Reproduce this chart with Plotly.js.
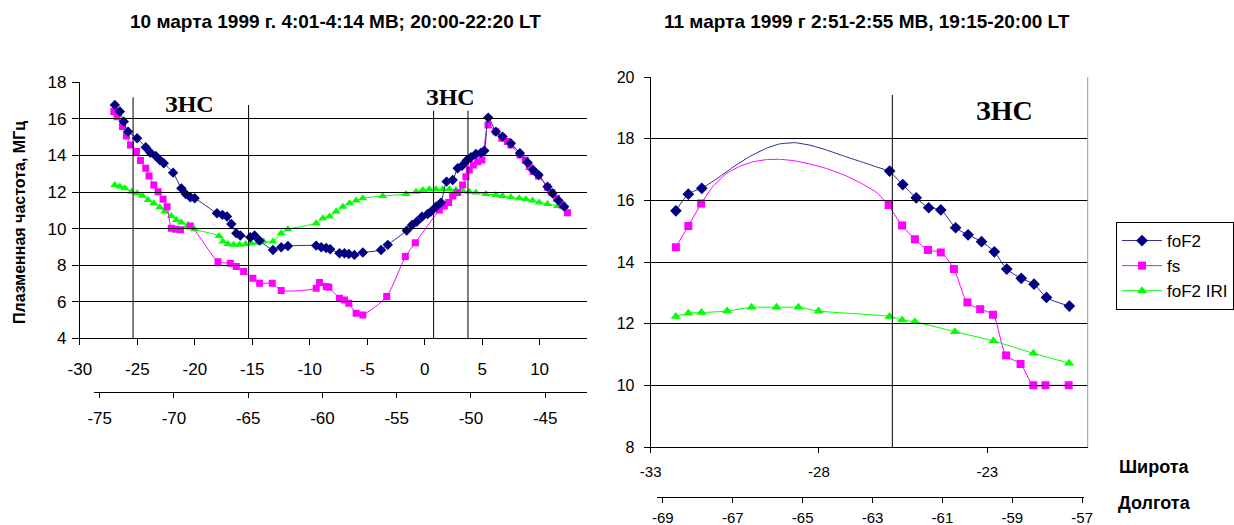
<!DOCTYPE html>
<html>
<head>
<meta charset="utf-8">
<script src="https://cdn.plot.ly/plotly-3.0.1.min.js"></script>
<style>html,body{margin:0;padding:0;background:#fff}#chart{width:1234px;height:525px}</style>
</head>
<body>
<div id="chart"></div>
<script>
// ---------- Left chart: 10 March 1999 ----------
const leftFoF2Lat = [-26.96,-26.52,-26.18,-25.80,-25.02,-24.27,-23.86,-23.40,-23.05,-22.70,-21.89,-21.17,-20.79,-20.39,-20.01,-18.07,-17.60,-17.20,-16.82,-16.39,-16.04,-15.17,-14.80,-14.36,-13.20,-12.48,-11.90,-9.44,-9.00,-8.57,-8.22,-7.41,-6.98,-6.60,-6.11,-5.38,-3.79,-3.21,-1.56,-1.10,-0.69,-0.23,0.26,0.55,0.99,1.42,1.91,2.44,2.87,3.25,3.65,4.03,4.46,4.90,5.19,5.53,6.20,6.78,7.50,8.29,8.95,9.44,9.91,10.69,11.12,11.65,12.14];
const leftFoF2Val = [16.76,16.40,15.85,15.30,14.94,14.45,14.15,13.97,13.75,13.57,13.06,12.20,11.89,11.71,11.66,10.84,10.75,10.66,10.25,9.74,9.62,9.53,9.62,9.34,8.83,8.98,9.05,9.07,8.98,8.94,8.87,8.65,8.65,8.61,8.56,8.69,8.83,9.11,9.89,10.20,10.38,10.65,10.80,10.93,11.20,11.42,12.57,12.66,13.30,13.43,13.72,13.90,14.08,14.15,14.26,16.07,15.30,15.03,14.66,14.12,13.61,13.21,12.93,12.29,11.93,11.53,11.20];

const leftFsLat = [-27.05,-26.76,-26.29,-25.95,-25.60,-25.08,-24.73,-24.27,-23.98,-23.57,-23.19,-22.76,-22.41,-22.04,-21.66,-21.25,-20.39,-17.98,-16.91,-16.39,-15.75,-14.94,-14.36,-13.26,-12.48,-9.44,-9.15,-8.57,-8.34,-7.41,-6.98,-6.60,-5.96,-5.38,-3.30,-1.68,-0.81,1.28,1.71,2.09,2.44,2.87,3.30,3.59,3.88,4.23,4.61,4.98,5.51,6.20,6.72,7.21,7.50,8.29,8.75,9.10,9.44,9.91,10.69,11.07,11.47,11.94,12.43];
const leftFsVal = [16.40,16.12,15.58,15.07,14.57,14.21,13.72,13.30,12.88,12.39,12.02,11.60,11.20,10.02,9.96,9.93,10.14,8.19,8.10,7.92,7.65,7.28,7.01,7.01,6.61,6.74,7.05,6.83,6.79,6.19,6.10,5.92,5.37,5.28,6.28,8.47,9.23,11.01,11.23,11.42,11.78,11.97,12.38,12.84,13.20,13.48,13.66,13.75,15.66,15.30,14.94,14.76,14.57,14.03,13.75,13.39,13.12,12.88,12.26,11.97,11.66,11.29,10.87];

const leftIriLat = [-26.96,-26.52,-26.09,-25.51,-25.02,-24.56,-24.06,-23.57,-23.05,-22.62,-22.04,-21.60,-21.17,-20.59,-20.01,-17.89,-17.55,-17.11,-16.62,-16.10,-15.58,-15.09,-14.51,-14.01,-13.20,-12.48,-11.90,-9.44,-8.86,-8.28,-7.70,-7.12,-6.54,-5.96,-5.38,-3.65,-1.62,-0.75,-0.17,0.41,0.99,1.57,2.15,2.72,3.30,3.88,4.46,5.33,6.20,6.78,7.50,8.23,8.81,9.39,9.97,10.69,11.56,12.14];
const leftIriVal = [12.39,12.30,12.20,12.02,11.93,11.79,11.57,11.38,11.16,10.93,10.69,10.47,10.33,10.20,9.96,9.60,9.29,9.16,9.11,9.11,9.16,9.20,9.23,9.29,9.29,9.74,9.96,10.29,10.56,10.66,10.93,11.20,11.38,11.53,11.66,11.78,11.89,12.02,12.11,12.15,12.15,12.15,12.15,12.11,12.07,12.02,11.97,11.89,11.84,11.78,11.71,11.66,11.60,11.53,11.42,11.35,11.24,11.16];

const leftLatTicks = [-30,-25,-20,-15,-10,-5,0,5,10];
const leftLonTicks = [-75,-70,-65,-60,-55,-50,-45];
const leftValTicks = [4,6,8,10,12,14,16,18];

// ---------- Right chart: 11 March 1999 ----------
const rightFoF2Lat = [-32.25,-31.88,-31.48,-25.90,-25.51,-25.11,-24.74,-24.38,-23.94,-23.57,-23.17,-22.79,-22.42,-21.99,-21.61,-21.24,-20.56];
const rightFoF2Val = [15.66,16.20,16.39,16.95,16.51,16.08,15.76,15.69,15.11,14.88,14.66,14.33,13.77,13.47,13.28,12.85,12.57];
// smooth connecting curve (no markers)
const rightFoF2CurveLat = [-31.06,-30.56,-30.06,-29.56,-29.17,-28.72,-28.27,-27.77,-27.27,-26.77,-26.28];
const rightFoF2CurveVal = [16.68,17.07,17.42,17.69,17.83,17.87,17.79,17.63,17.44,17.26,17.08];

const rightFsLat = [-32.25,-31.88,-31.50,-25.93,-25.53,-25.15,-24.76,-24.38,-23.99,-23.59,-23.21,-22.83,-22.44,-22.01,-21.63,-21.27,-20.58];
const rightFsVal = [14.48,15.17,15.90,15.85,15.18,14.74,14.39,14.31,13.77,12.69,12.47,12.29,10.97,10.69,10.00,10.00,10.00];
const rightFsCurveLat = [-31.16,-30.76,-30.36,-29.96,-29.56,-29.17,-28.77,-28.27,-27.77,-27.27,-26.77,-26.28];
const rightFsCurveVal = [16.44,16.86,17.10,17.25,17.32,17.33,17.29,17.18,17.03,16.83,16.57,16.25];

const rightIriLat = [-32.25,-31.88,-31.49,-30.73,-30.00,-29.26,-28.61,-28.01,-25.90,-25.53,-25.15,-23.96,-22.82,-21.63,-20.57];
const rightIriVal = [12.23,12.34,12.36,12.41,12.53,12.53,12.53,12.41,12.23,12.12,12.06,11.74,11.44,11.04,10.72];

const rightLatTicks = [-33,-28,-23];
const rightLonTicks = [-69,-67,-65,-63,-61,-59,-57];
const rightValTicks = [8,10,12,14,16,18,20];

const seriesNames = ['foF2','fs','foF2 IRI'];

// ---------- styles ----------
const BLUE_LINE = '#2a2a8c', BLUE_MK = '#000080', PINK = '#ff00ff', GREEN = '#00ff00';
const W = 1234, H = 525;
const px = v => v / W, py = v => 1 - v / H;
const FONT = 'Liberation Sans, Arial, sans-serif';
const SERIF = 'Liberation Serif, Times New Roman, serif';
const txt = arr => arr.map(v => String(v));   // plain hyphen minus like the original

function withGap(arr, idx) { return arr.slice(0, idx).concat([null], arr.slice(idx)); }

const traces = [
  // left chart
  {x: leftIriLat, y: leftIriVal, xaxis:'x', yaxis:'y', mode:'lines+markers', name:seriesNames[2], showlegend:false,
   line:{color:GREEN, width:1, shape:'spline', smoothing:0.6}, marker:{symbol:'triangle-up', size:8, color:GREEN}},
  {x: leftFsLat, y: leftFsVal, xaxis:'x', yaxis:'y', mode:'lines+markers', name:seriesNames[1], showlegend:false,
   line:{color:PINK, width:1, shape:'spline', smoothing:0.6}, marker:{symbol:'square', size:7, color:PINK}},
  {x: leftFoF2Lat, y: leftFoF2Val, xaxis:'x', yaxis:'y', mode:'lines+markers', name:seriesNames[0], showlegend:false,
   line:{color:BLUE_LINE, width:1, shape:'spline', smoothing:0.6}, marker:{symbol:'diamond', size:8, color:BLUE_MK}},
  // right chart connector curves
  {x: [rightFoF2Lat[2]].concat(rightFoF2CurveLat, [rightFoF2Lat[3]]), y: [rightFoF2Val[2]].concat(rightFoF2CurveVal, [rightFoF2Val[3]]),
   xaxis:'x2', yaxis:'y2', mode:'lines', showlegend:false, hoverinfo:'skip', line:{color:BLUE_LINE, width:1, shape:'spline', smoothing:0.3}},
  {x: [rightFsLat[2]].concat(rightFsCurveLat, [rightFsLat[3]]), y: [rightFsVal[2]].concat(rightFsCurveVal, [rightFsVal[3]]),
   xaxis:'x2', yaxis:'y2', mode:'lines', showlegend:false, hoverinfo:'skip', line:{color:PINK, width:1, shape:'spline', smoothing:0.3}},
  // right chart series (legend)
  {x: withGap(rightFoF2Lat,3), y: withGap(rightFoF2Val,3), xaxis:'x2', yaxis:'y2', mode:'lines+markers', name:seriesNames[0],
   connectgaps:false, line:{color:BLUE_LINE, width:1, shape:'spline', smoothing:0.8}, marker:{symbol:'diamond', size:9, color:BLUE_MK}},
  {x: withGap(rightFsLat,3), y: withGap(rightFsVal,3), xaxis:'x2', yaxis:'y2', mode:'lines+markers', name:seriesNames[1],
   connectgaps:false, line:{color:PINK, width:1, shape:'spline', smoothing:0.8}, marker:{symbol:'square', size:8, color:PINK}},
  {x: rightIriLat, y: rightIriVal, xaxis:'x2', yaxis:'y2', mode:'lines+markers', name:seriesNames[2],
   line:{color:GREEN, width:1, shape:'spline', smoothing:0.8}, marker:{symbol:'triangle-up', size:9, color:GREEN}},
  // invisible anchors for longitude axes
  {x:[leftLonTicks[0]], y:[10], xaxis:'x3', yaxis:'y', mode:'markers', marker:{opacity:0}, showlegend:false, hoverinfo:'skip'},
  {x:[rightLonTicks[0]], y:[10], xaxis:'x4', yaxis:'y2', mode:'markers', marker:{opacity:0}, showlegend:false, hoverinfo:'skip'}
];

const axBase = {showline:true, linecolor:'#000', linewidth:1, ticks:'outside', tickcolor:'#000', tickwidth:1,
  zeroline:false, fixedrange:true, tickfont:{family:FONT, size:15, color:'#000'}};

const layout = {
  width:W, height:H, margin:{l:0,r:0,t:0,b:0}, paper_bgcolor:'#fff', plot_bgcolor:'rgba(0,0,0,0)',
  showlegend:true,
  legend:{x:px(1118), y:py(222), xanchor:'left', yanchor:'top', bordercolor:'#000', borderwidth:1, bgcolor:'#fff',
    font:{family:FONT, size:17, color:'#000'}, tracegroupgap:0, itemwidth:40},
  xaxis: Object.assign({}, axBase, {domain:[px(80), px(588)], range:[-30,14.13], tickvals:leftLatTicks, ticktext:txt(leftLatTicks), ticklen:6,
    anchor:'y', showgrid:false, ticklabelstandoff:9, tickfont:{family:FONT, size:17, color:'#000'}}),
  yaxis: Object.assign({}, axBase, {domain:[py(338.3), py(82.3)], range:[4,18], tickvals:leftValTicks, ticktext:txt(leftValTicks), ticklen:7,
    anchor:'x', showgrid:true, gridcolor:'#000', gridwidth:1, ticklabelstandoff:2, tickfont:{family:FONT, size:17, color:'#000'}}),
  xaxis3: Object.assign({}, axBase, {domain:[px(93.8), px(588)], range:[-75.41,-42.18], tickvals:leftLonTicks, ticktext:txt(leftLonTicks), ticklen:5,
    anchor:'free', position:py(391.7), showgrid:false, ticklabelstandoff:6, tickfont:{family:FONT, size:17, color:'#000'}}),
  xaxis2: Object.assign({}, axBase, {domain:[px(651.7), px(1090)], range:[-33,-20], tickvals:rightLatTicks, ticktext:txt(rightLatTicks), ticklen:5,
    anchor:'y2', showgrid:false, ticklabelstandoff:6}),
  yaxis2: Object.assign({}, axBase, {domain:[py(447), py(77)], range:[8,20], tickvals:rightValTicks, ticktext:txt(rightValTicks), ticklen:6,
    anchor:'x2', showgrid:true, gridcolor:'#000', gridwidth:1, ticklabelstandoff:6, tickfont:{family:FONT, size:16, color:'#000'}}),
  xaxis4: Object.assign({}, axBase, {domain:[px(658), px(1086)], range:[-69.17,-56.94], tickvals:rightLonTicks, ticktext:txt(rightLonTicks), ticklen:5,
    anchor:'free', position:py(496.7), showgrid:false, ticklabelstandoff:2}),
  shapes: [
    {type:'line', xref:'x', yref:'y', x0:-25.37, x1:-25.37, y0:4, y1:17.18, line:{color:'#000', width:1}},
    {type:'line', xref:'x', yref:'y', x0:-15.32, x1:-15.32, y0:4, y1:16.76, line:{color:'#000', width:1}},
    {type:'line', xref:'x', yref:'y', x0:0.78, x1:0.78, y0:4, y1:16.45, line:{color:'#000', width:1}},
    {type:'line', xref:'x', yref:'y', x0:3.77, x1:3.77, y0:4, y1:16.45, line:{color:'#000', width:1}},
    {type:'line', xref:'x2', yref:'y2', x0:-25.82, x1:-25.82, y0:8, y1:19.42, line:{color:'#000', width:1}},
    {type:'line', xref:'paper', yref:'paper', x0:px(1089.5), x1:px(1089.5), y0:py(447), y1:py(77), line:{color:'#999', width:1}}
  ],
  annotations: [
    {text:'<b>10 марта 1999 г. 4:01-4:14 МВ; 20:00-22:20 LT</b>', xref:'paper', yref:'paper', x:px(336), y:py(22),
     showarrow:false, xanchor:'center', yanchor:'middle', font:{family:FONT, size:19, color:'#000'}},
    {text:'<b>11 марта 1999 г 2:51-2:55 МВ, 19:15-20:00 LT</b>', xref:'paper', yref:'paper', x:px(868), y:py(22),
     showarrow:false, xanchor:'center', yanchor:'middle', font:{family:FONT, size:19, color:'#000'}},
    {text:'<b>Плазменная частота, МГц</b>', xref:'paper', yref:'paper', x:px(20), y:py(222), textangle:-90,
     showarrow:false, xanchor:'center', yanchor:'middle', font:{family:FONT, size:16, color:'#000'}},
    {text:'<b>ЗНС</b>', xref:'paper', yref:'paper', x:px(190), y:py(103.5), showarrow:false, xanchor:'center', yanchor:'middle',
     font:{family:SERIF, size:24, color:'#000'}},
    {text:'<b>ЗНС</b>', xref:'paper', yref:'paper', x:px(451), y:py(96.7), showarrow:false, xanchor:'center', yanchor:'middle',
     font:{family:SERIF, size:24, color:'#000'}},
    {text:'<b>ЗНС</b>', xref:'paper', yref:'paper', x:px(1006), y:py(110.5), showarrow:false, xanchor:'center', yanchor:'middle',
     font:{family:SERIF, size:28, color:'#000'}},
    {text:'<b>Широта</b>', xref:'paper', yref:'paper', x:px(1156), y:py(467), showarrow:false, xanchor:'center', yanchor:'middle',
     font:{family:FONT, size:18, color:'#000'}},
    {text:'<b>Долгота</b>', xref:'paper', yref:'paper', x:px(1156), y:py(503), showarrow:false, xanchor:'center', yanchor:'middle',
     font:{family:FONT, size:18, color:'#000'}}
  ]
};

Plotly.newPlot('chart', traces, layout, {staticPlot:true, displayModeBar:false});
</script>
</body>
</html>
